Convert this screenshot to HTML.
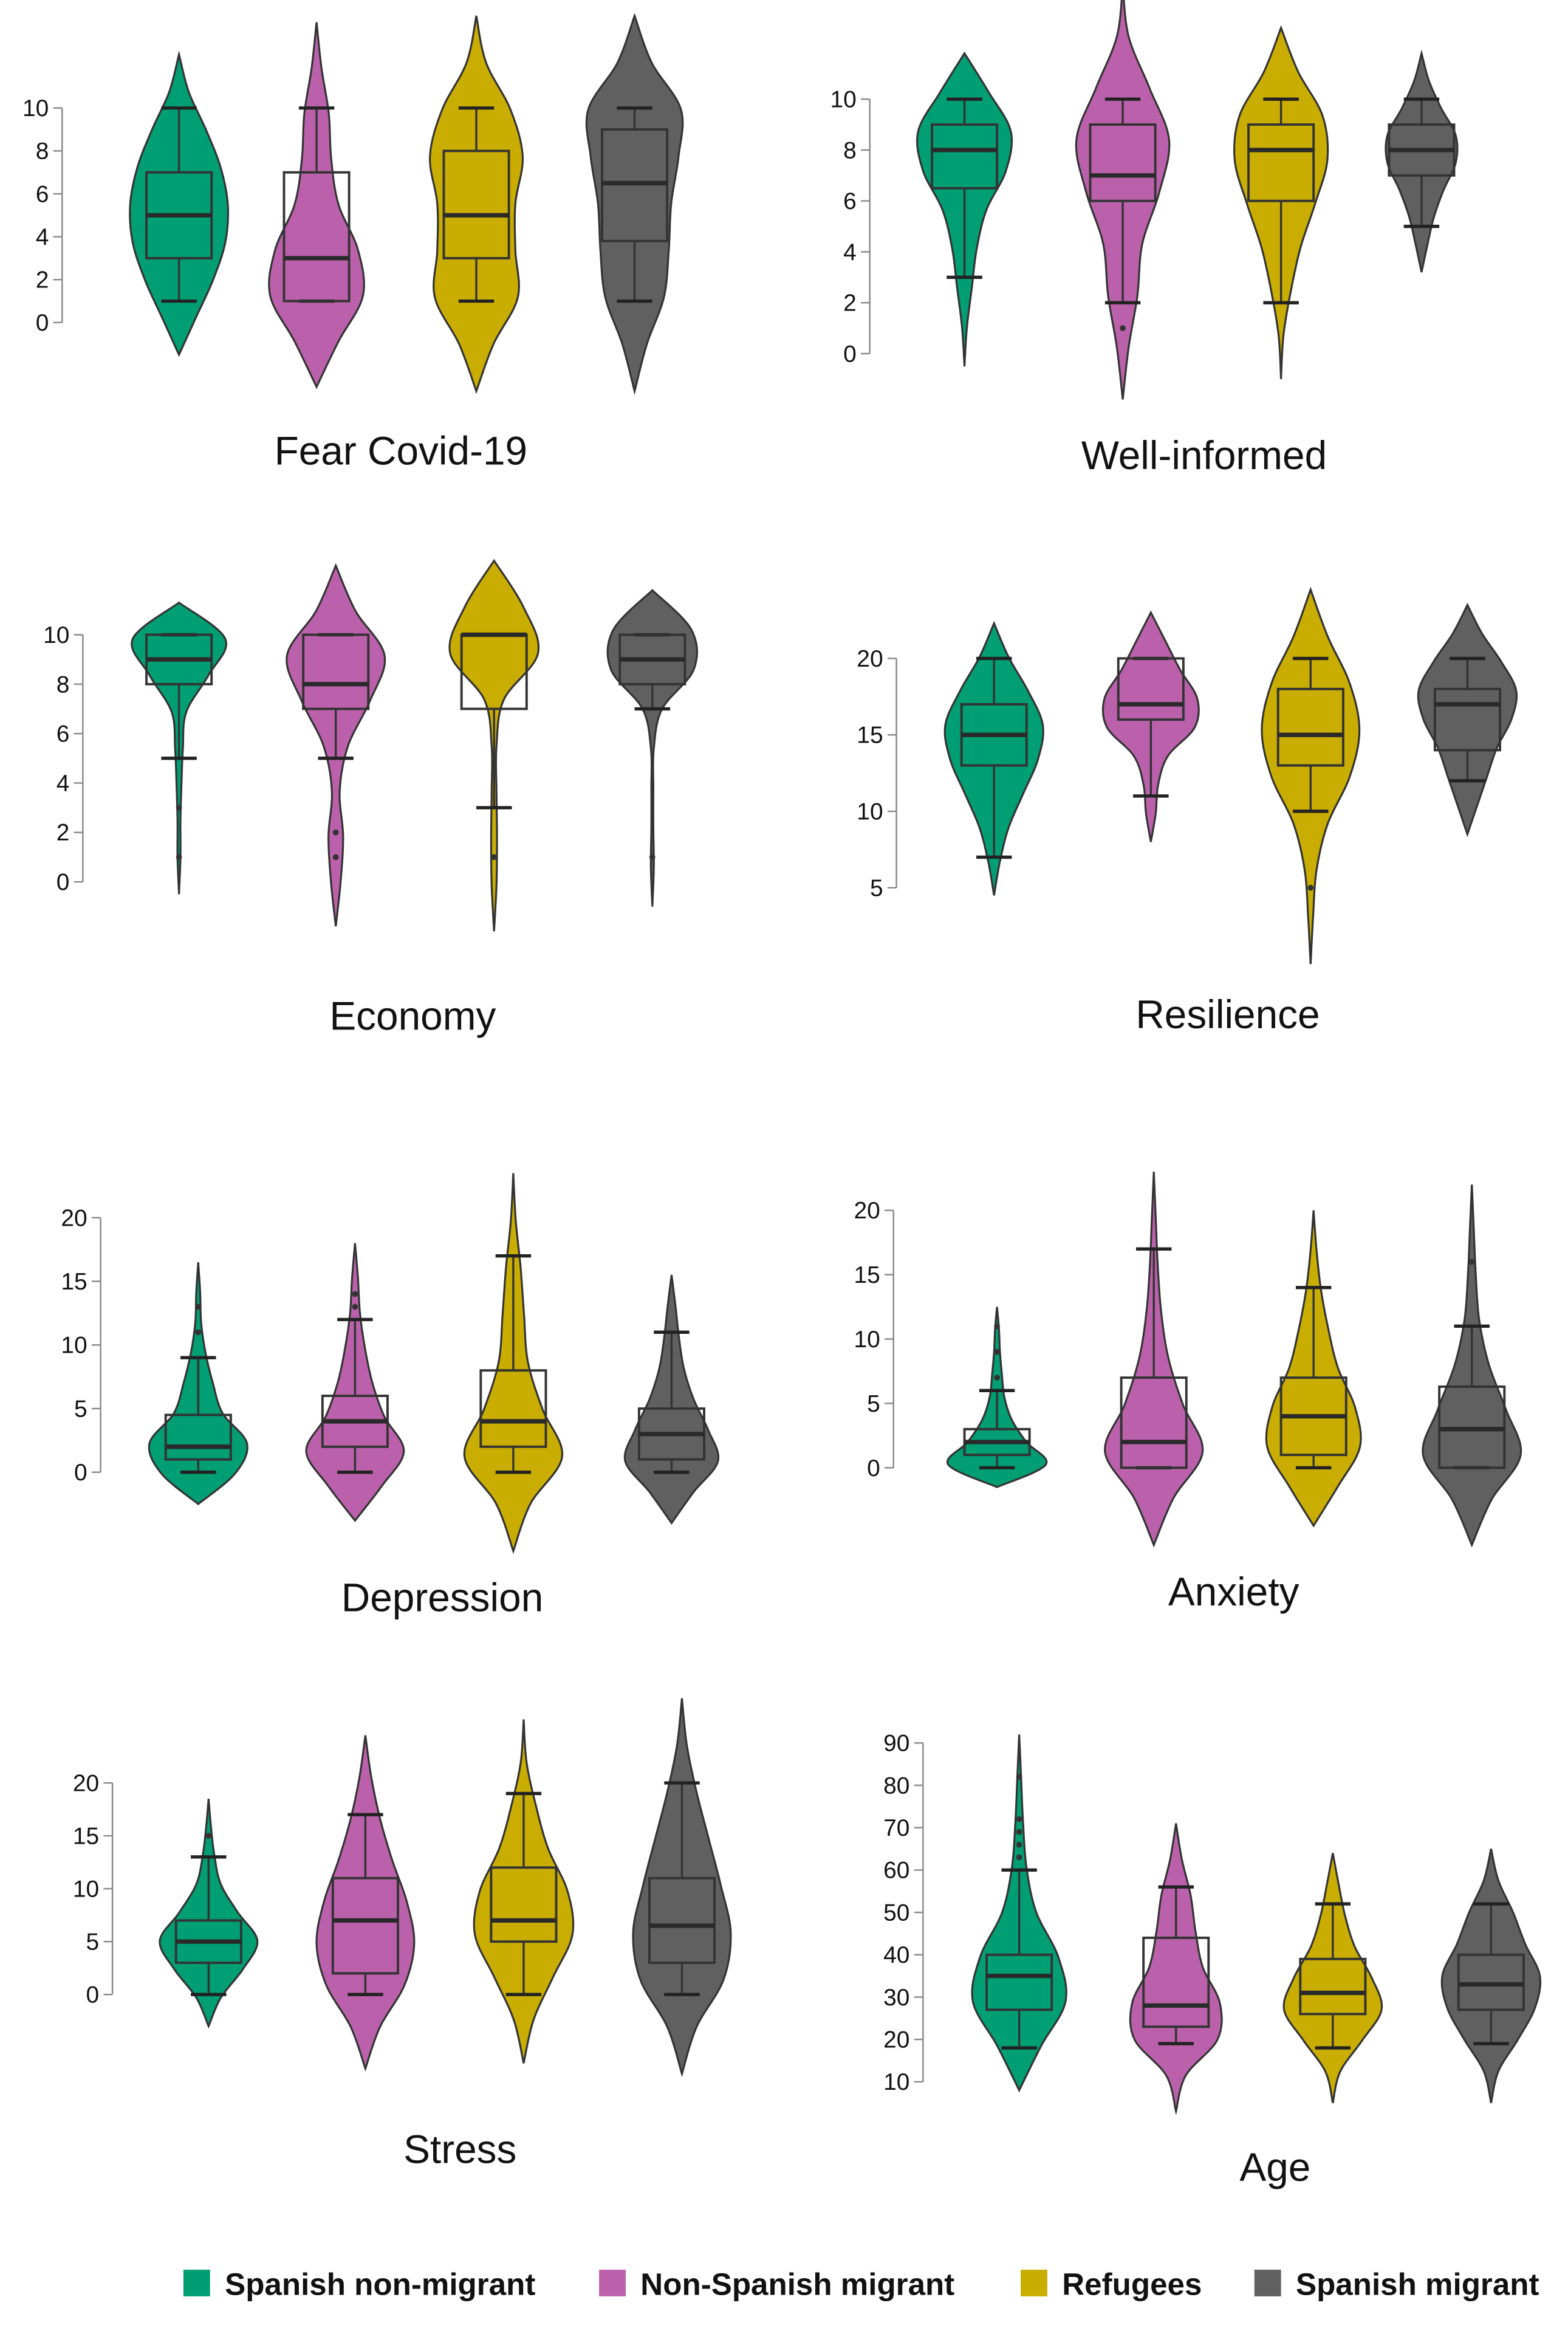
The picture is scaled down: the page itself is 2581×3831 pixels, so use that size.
<!DOCTYPE html>
<html><head><meta charset="utf-8"><style>
html,body{margin:0;padding:0;background:#fff;}
svg{display:block;}
text{font-family:"Liberation Sans",Arial,sans-serif;}
</style></head><body>
<svg id="chart" xmlns="http://www.w3.org/2000/svg" width="2581" height="3831" viewBox="0 0 1060 1573.4" preserveAspectRatio="none">
<rect x="0" y="0" width="1060" height="1573.4" fill="#fff"/>
</svg>
<script>
const groupNames = ["Spanish non-migrant","Non-Spanish migrant","Refugees","Spanish migrant"];
const groupColors = ["#009e73","#bb61ab","#c9ad00","#606060"];

// Panel titles
const panelTitles = ["Fear Covid-19","Well-informed","Economy","Resilience","Depression","Anxiety","Stress","Age"];
// Y tick labels per panel
const ticksFear = [0,2,4,6,8,10];
const ticksWell = [0,2,4,6,8,10];
const ticksEcon = [0,2,4,6,8,10];
const ticksRes = [5,10,15,20];
const ticksDep = [0,5,10,15,20];
const ticksAnx = [0,5,10,15,20];
const ticksStress = [0,5,10,15,20];
const ticksAge = [10,20,30,40,50,60,70,80,90];

// Box stats per panel: [lower whisker, q1, median, q3, upper whisker] per group
const boxFear = [[1,3,5,7,10],[1,1,3,7,10],[1,3,5,8,10],[1,3.8,6.5,9,10]];
const boxWell = [[3,6.5,8,9,10],[2,6,7,9,10],[2,6,8,9,10],[5,7,8,9,10]];
const boxEcon = [[5,8,9,10,10],[5,7,8,10,10],[3,7,10,10,10],[7,8,9,10,10]];
const boxRes = [[7,13,15,17,20],[11,16,17,20,20],[10,13,15,18,20],[12,14,17,18,20]];
const boxDep = [[0,1,2,4.5,9],[0,2,4,6,12],[0,2,4,8,17],[0,1,3,5,11]];
const boxAnx = [[0,1,2,3,6],[0,0,2,7,17],[0,1,4,7,14],[0,0,3,6.3,11]];
const boxStress = [[0,3,5,7,13],[0,2,7,11,17],[0,5,7,12,19],[0,3,6.5,11,20]];
const boxAge = [[18,27,35,40,60],[19,23,28,44,56],[18,26,31,39,52],[19,27,33,40,52]];

// Violin value range [lo, hi] per group
const rangeFear = [[-1.5,12.5],[-3,14],[-3.2,14.3],[-3.2,14.3]];
const rangeWell = [[-0.5,11.8],[-1.8,14.5],[-1,12.8],[3.2,11.8]];
const rangeEcon = [[-0.5,11.3],[-1.8,12.8],[-2,13],[-1,11.8]];
const rangeRes = [[4.5,22.3],[8,23],[0,24.5],[8.5,23.5]];
const rangeDep = [[-2.5,16.5],[-3.8,18],[-6.2,23.5],[-4,15.5]];
const rangeAnx = [[-1.5,12.5],[-6,23],[-4.5,20],[-6,22]];
const rangeStress = [[-3,18.5],[-7,24.5],[-6.5,26],[-7.5,28]];
const rangeAge = [[8,92],[3,71],[5,64],[5,65]];

// Relative density, evenly spaced from lo to hi
const densFear = [[0,0.35,0.7,0.95,1.0,0.85,0.55,0.2,0],[0,0.45,0.95,0.85,0.45,0.3,0.25,0.1,0],[0,0.35,0.85,0.8,0.8,0.95,0.7,0.2,0],[0,0.25,0.6,0.7,0.75,0.9,0.95,0.35,0]];
const densWell = [[0,0.05,0.15,0.25,0.45,0.85,0.95,0.5,0],[0,0.12,0.3,0.4,0.75,0.95,0.55,0.12,0],[0,0.05,0.2,0.4,0.7,0.95,0.85,0.35,0],[0,0.12,0.25,0.45,0.7,0.7,0.4,0.15,0]];
const densEcon = [[0,0.03,0.03,0.05,0.08,0.15,0.6,0.95,0],[0,0.1,0.15,0.08,0.25,0.7,1.0,0.4,0],[0,0.05,0.06,0.05,0.05,0.2,0.9,0.6,0],[0,0.03,0.02,0.02,0.03,0.2,0.85,0.8,0]];
const densRes = [[0,0.12,0.3,0.6,0.9,1.0,0.7,0.3,0],[0,0.1,0.15,0.35,0.9,0.95,0.6,0.3,0],[0,0.05,0.12,0.35,0.8,1.0,0.8,0.35,0],[0,0.2,0.4,0.6,0.9,1.0,0.7,0.3,0]];
const densDep = [[0,0.75,1.0,0.5,0.3,0.15,0.06,0.04,0],[0,0.55,1.0,0.6,0.35,0.2,0.1,0.06,0],[0,0.35,1.0,0.6,0.3,0.22,0.15,0.05,0],[0,0.45,0.95,0.75,0.45,0.25,0.15,0.08,0]];
const densAnx = [[0,1.0,0.6,0.3,0.15,0.1,0.06,0.04,0],[0,0.4,1.0,0.6,0.3,0.15,0.08,0.04,0],[0,0.5,0.95,0.85,0.5,0.3,0.15,0.06,0],[0,0.4,1.0,0.7,0.35,0.15,0.08,0.04,0]];
const densStress = [[0,0.25,0.7,1.0,0.6,0.25,0.12,0.05,0],[0,0.3,0.8,1.0,0.85,0.55,0.3,0.12,0],[0,0.2,0.6,1.0,0.9,0.5,0.25,0.06,0],[0,0.3,0.85,1.0,0.8,0.55,0.3,0.1,0]];
const densAge = [[0,0.45,0.95,0.8,0.35,0.15,0.08,0.04,0],[0,0.2,0.85,0.9,0.55,0.4,0.3,0.12,0],[0,0.15,0.6,1.0,0.8,0.45,0.25,0.12,0],[0,0.15,0.55,0.9,1.0,0.7,0.45,0.15,0]];

// Outliers
const outFear = [[],[],[],[]];
const outWell = [[],[1],[],[]];
const outEcon = [[3,1],[2,1],[1],[1]];
const outRes = [[],[],[5],[]];
const outDep = [[11,13],[13,14],[],[]];
const outAnx = [[7,9,11],[],[],[16]];
const outStress = [[15],[],[],[]];
const outAge = [[63,66,69,72,82],[],[],[]];

const panels = [
 {t:0,ticks:ticksFear,box:boxFear,rng:rangeFear,dens:densFear,out:outFear,ax:42,v0:0,y0:218,v1:10,y1:73,cx:[121,214,322,429],tx:271,ty:305},
 {t:1,ticks:ticksWell,box:boxWell,rng:rangeWell,dens:densWell,out:outWell,ax:588,v0:0,y0:239,v1:10,y1:67,cx:[652,759,866,961],tx:814,ty:308},
 {t:2,ticks:ticksEcon,box:boxEcon,rng:rangeEcon,dens:densEcon,out:outEcon,ax:56,v0:0,y0:596,v1:10,y1:429,cx:[121,227,334,441],tx:279,ty:687},
 {t:3,ticks:ticksRes,box:boxRes,rng:rangeRes,dens:densRes,out:outRes,ax:606,v0:5,y0:600,v1:20,y1:445,cx:[672,778,886,992],tx:830,ty:686},
 {t:4,ticks:ticksDep,box:boxDep,rng:rangeDep,dens:densDep,out:outDep,ax:68,v0:0,y0:995,v1:20,y1:823,cx:[134,240,347,454],tx:299,ty:1080},
 {t:5,ticks:ticksAnx,box:boxAnx,rng:rangeAnx,dens:densAnx,out:outAnx,ax:604,v0:0,y0:992,v1:20,y1:818,cx:[674,780,888,995],tx:834,ty:1076},
 {t:6,ticks:ticksStress,box:boxStress,rng:rangeStress,dens:densStress,out:outStress,ax:76,v0:0,y0:1348,v1:20,y1:1205,cx:[141,247,354,461],tx:311,ty:1453},
 {t:7,ticks:ticksAge,box:boxAge,rng:rangeAge,dens:densAge,out:outAge,ax:624,v0:10,y0:1407,v1:90,y1:1178,cx:[689,795,901,1008],tx:862,ty:1465}
];

const NS = "http://www.w3.org/2000/svg";
const svg = document.getElementById('chart');
function mk(tag, attrs, parent){
  const e = document.createElementNS(NS, tag);
  for (const k in attrs) e.setAttribute(k, attrs[k]);
  (parent||svg).appendChild(e);
  return e;
}
function slug(s){return s.toLowerCase().replace(/[^a-z0-9]+/g,'-').replace(/-$/,'');}
function crPath(pts){
  let d = "M"+pts[0][0].toFixed(2)+","+pts[0][1].toFixed(2);
  for (let i=0;i<pts.length-1;i++){
    const p0=pts[Math.max(0,i-1)], p1=pts[i], p2=pts[i+1], p3=pts[Math.min(pts.length-1,i+2)];
    const c1=[p1[0]+(p2[0]-p0[0])/6, p1[1]+(p2[1]-p0[1])/6];
    const c2=[p2[0]-(p3[0]-p1[0])/6, p2[1]-(p3[1]-p1[1])/6];
    d += " C"+c1[0].toFixed(2)+","+c1[1].toFixed(2)+" "+c2[0].toFixed(2)+","+c2[1].toFixed(2)+" "+p2[0].toFixed(2)+","+p2[1].toFixed(2);
  }
  return d;
}
const maxHalf = 33, boxW = 44, capW = 24;

panels.forEach(p=>{
  const name = slug(panelTitles[p.t]);
  const g = mk('g',{});
  
  
  const y = v => p.y0 + (v - p.v0) * (p.y1 - p.y0) / (p.v1 - p.v0);
  const tmin = p.ticks[0], tmax = p.ticks[p.ticks.length-1];
  const axis = mk('line',{x1:p.ax,x2:p.ax,y1:y(tmin),y2:y(tmax),stroke:'#888','stroke-width':1},g);
  
  
  p.ticks.forEach(tv=>{
    mk('line',{x1:p.ax-6,x2:p.ax,y1:y(tv),y2:y(tv),stroke:'#888','stroke-width':1},g);
    const tl = mk('text',{x:p.ax-9,y:y(tv)+5.5,'text-anchor':'end','font-size':16,fill:'#111'},g);
    tl.textContent = tv;
    
    
  });
  for (let gi=0; gi<4; gi++){
    const cx = p.cx[gi], col = groupColors[gi];
    const [lo,hi] = p.rng[gi], dens = p.dens[gi], n = dens.length;
    const right = [], left = [];
    for (let i=0;i<n;i++){
      const v = lo + (hi-lo)*i/(n-1);
      right.push([cx + dens[i]*maxHalf, y(v)]);
    }
    for (let i=n-1;i>=0;i--){
      const v = lo + (hi-lo)*i/(n-1);
      left.push([cx - dens[i]*maxHalf, y(v)]);
    }
    const d = crPath(right) + " " + crPath(left).replace(/^M/,'L') + " Z";
    const vio = mk('path',{d:d,fill:col,stroke:'#333','stroke-width':1.3},g);
    
    
    const b = p.box[gi];
    const st = {stroke:'#333','stroke-width':1.4};
    mk('line',Object.assign({x1:cx,x2:cx,y1:y(b[0]),y2:y(b[1])},st),g);
    mk('line',Object.assign({x1:cx,x2:cx,y1:y(b[3]),y2:y(b[4])},st),g);
    mk('line',{x1:cx-capW/2,x2:cx+capW/2,y1:y(b[0]),y2:y(b[0]),stroke:'#222','stroke-width':2.2},g);
    mk('line',{x1:cx-capW/2,x2:cx+capW/2,y1:y(b[4]),y2:y(b[4]),stroke:'#222','stroke-width':2.2},g);
    const bx = mk('rect',{x:cx-boxW/2,y:y(b[3]),width:boxW,height:Math.max(0.1,y(b[1])-y(b[3])),fill:'none',stroke:'#333','stroke-width':1.6},g);
    
    
    mk('line',{x1:cx-boxW/2,x2:cx+boxW/2,y1:y(b[2]),y2:y(b[2]),stroke:'#2a2a2a','stroke-width':3},g);
    p.out[gi].forEach(ov=>{
      const c = mk('circle',{cx:cx,cy:y(ov),r:2,fill:'#333'},g);
      
      
    });
  }
  const tt = mk('text',{x:p.tx,y:p.ty+9,'text-anchor':'middle','font-size':27,fill:'#111'},g);
  tt.textContent = panelTitles[p.t];
  
  
});

const legendX = [124,405,690,848];
const lg = mk('g',{});


groupNames.forEach((nm,i)=>{
  const e = mk('g',{},lg);
  
  
  mk('rect',{x:legendX[i],y:1534,width:18,height:18,fill:groupColors[i]},e);
  const t = mk('text',{x:legendX[i]+28,y:1551,'font-size':21,'font-weight':'bold',fill:'#111'},e);
  t.textContent = nm;
});
</script>
</body></html>
